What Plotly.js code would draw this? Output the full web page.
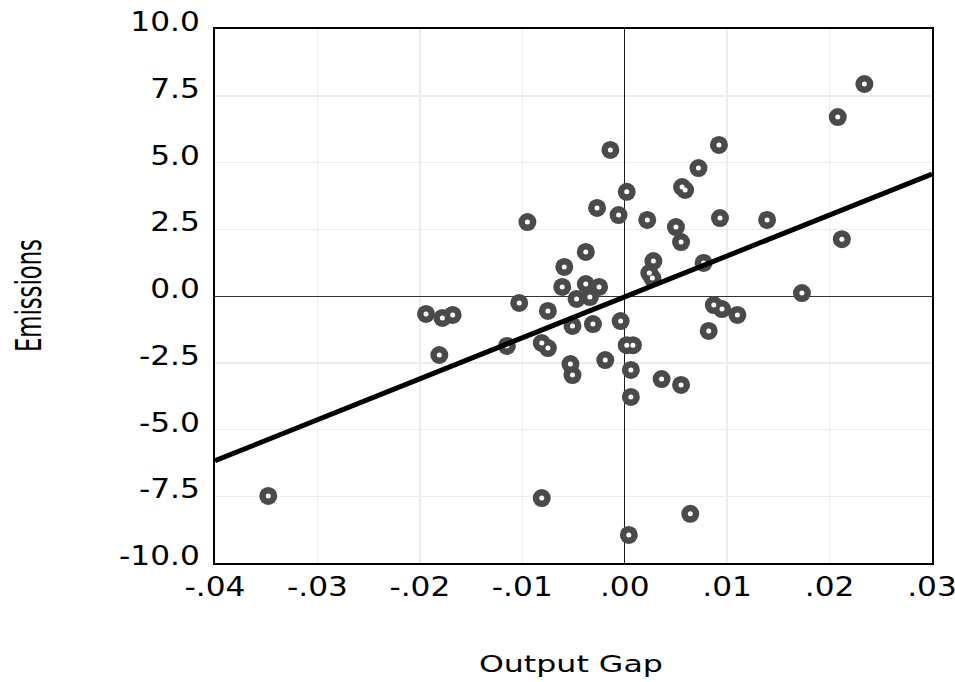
<!DOCTYPE html>
<html>
<head>
<meta charset="utf-8">
<script src="https://cdn.plot.ly/plotly-3.0.1.min.js"></script>
<style>
  html, body { margin: 0; padding: 0; background: #fff; }
  #chart { width: 955px; height: 682px; }
</style>
</head>
<body>
<div id="chart"></div>
<script>
// Output gap (x) and emissions (y)
var outputGap = [
  -0.0348, -0.0081, 0.0004, 0.0064, 0.0234, 0.0208, 0.0092, -0.0014, 0.0072, 0.0056,
  0.0059, 0.0002, -0.0027, -0.0006, -0.0095, 0.0022, 0.0093, 0.0139, 0.0050, 0.0055,
  0.0212, -0.0038, 0.0028, -0.0059, 0.0077, 0.0024, 0.0027, -0.0061, -0.0038, -0.0025,
  0.0173, -0.0103, -0.0047, -0.0034, -0.0194, -0.0178, -0.0168, -0.0075, 0.0087, 0.0095,
  0.0110, -0.0051, -0.0031, -0.0004, 0.0082, -0.0115, -0.0081, -0.0075, 0.0002, 0.0008,
  -0.0181, -0.0053, -0.0019, 0.0006, -0.0051, 0.0036, 0.0055, 0.0006
];
var emissions = [
  -7.49, -7.57, -8.95, -8.16, 7.94, 6.70, 5.66, 5.47, 4.79, 4.08,
  3.97, 3.90, 3.30, 3.03, 2.77, 2.85, 2.92, 2.85, 2.58, 2.02,
  2.13, 1.65, 1.31, 1.09, 1.24, 0.86, 0.67, 0.34, 0.45, 0.34,
  0.11, -0.26, -0.11, -0.04, -0.67, -0.82, -0.71, -0.56, -0.34, -0.49,
  -0.71, -1.12, -1.05, -0.94, -1.31, -1.87, -1.76, -1.95, -1.84, -1.84,
  -2.21, -2.55, -2.40, -2.77, -2.96, -3.11, -3.33, -3.78
];
// Fitted line end points
var fitX = [-0.04, 0.03];
var fitY = [-6.17, 4.57];

var xTickVals = [-0.04, -0.03, -0.02, -0.01, 0, 0.01, 0.02, 0.03];
var xTickText = ['-.04', '-.03', '-.02', '-.01', '.00', '.01', '.02', '.03'];
var yTickVals = [-10, -7.5, -5, -2.5, 0, 2.5, 5, 7.5, 10];
var yTickText = ['-10.0', '-7.5', '-5.0', '-2.5', '0.0', '2.5', '5.0', '7.5', '10.0'];

var traces = [
  {
    x: outputGap, y: emissions, type: 'scatter', mode: 'markers',
    marker: { symbol: 'circle', size: 18, color: '#4a4a4a', line: { width: 0 } },
    hoverinfo: 'x+y', showlegend: false
  },
  {
    x: outputGap, y: emissions, type: 'scatter', mode: 'markers',
    marker: { symbol: 'circle', size: 5, color: '#ffffff', line: { width: 0 } },
    hoverinfo: 'skip', showlegend: false
  },
  {
    x: fitX, y: fitY, type: 'scatter', mode: 'lines',
    line: { color: '#000000', width: 5 },
    hoverinfo: 'skip', showlegend: false
  }
];

var tickFont = { family: 'DejaVu Sans', size: 26, color: '#000' };

var layout = {
  width: 955, height: 682,
  margin: { l: 215, r: 23, t: 29, b: 119, pad: 0 },
  paper_bgcolor: '#ffffff', plot_bgcolor: '#ffffff',
  showlegend: false,
  xaxis: {
    range: [-0.04, 0.03], tickvals: xTickVals, ticktext: xTickText,
    tickfont: tickFont, ticks: '', ticklabelstandoff: 0, ticklabeloverflow: 'allow',
    showgrid: true, gridcolor: '#ededed', gridwidth: 1.5,
    zeroline: true, zerolinecolor: '#1a1a1a', zerolinewidth: 1.5,
    showline: true, linecolor: '#000', linewidth: 2, mirror: true,
    automargin: false
  },
  yaxis: {
    range: [-10, 10], tickvals: yTickVals, ticktext: yTickText,
    tickfont: tickFont, ticks: '', ticklabelstandoff: 8, ticklabelshift: -7,
    ticklabeloverflow: 'allow',
    showgrid: true, gridcolor: '#ededed', gridwidth: 1.5,
    zeroline: true, zerolinecolor: '#333333', zerolinewidth: 1,
    showline: true, linecolor: '#000', linewidth: 2, mirror: true,
    automargin: false
  },
  annotations: [
    {
      text: 'Output Gap', xref: 'paper', yref: 'paper', x: 0.497, y: -0.19,
      xanchor: 'center', yanchor: 'middle', showarrow: false,
      font: { family: 'DejaVu Sans', size: 23, color: '#000' }
    },
    {
      text: 'Emissions', xref: 'paper', yref: 'paper', x: -0.26, y: 0.5,
      xanchor: 'center', yanchor: 'middle', showarrow: false, textangle: -90,
      font: { family: 'DejaVu Sans', size: 35, color: '#000' }
    }
  ]
};

function stretchText(el, length) {
  el.setAttribute('textLength', String(length));
  el.setAttribute('lengthAdjust', 'spacingAndGlyphs');
}

Plotly.newPlot('chart', traces, layout, { displayModeBar: false, staticPlot: true }).then(function () {
  // the reference draws its texts horizontally stretched
  document.querySelectorAll('.xtick text, .ytick text').forEach(function (t) {
    stretchText(t, t.getComputedTextLength() * 1.2);
  });
  var anns = document.querySelectorAll('.annotation-text');
  if (anns.length) { stretchText(anns[0], 184); }
  if (anns.length > 1) { stretchText(anns[1], 113); }
});
</script>
</body>
</html>
